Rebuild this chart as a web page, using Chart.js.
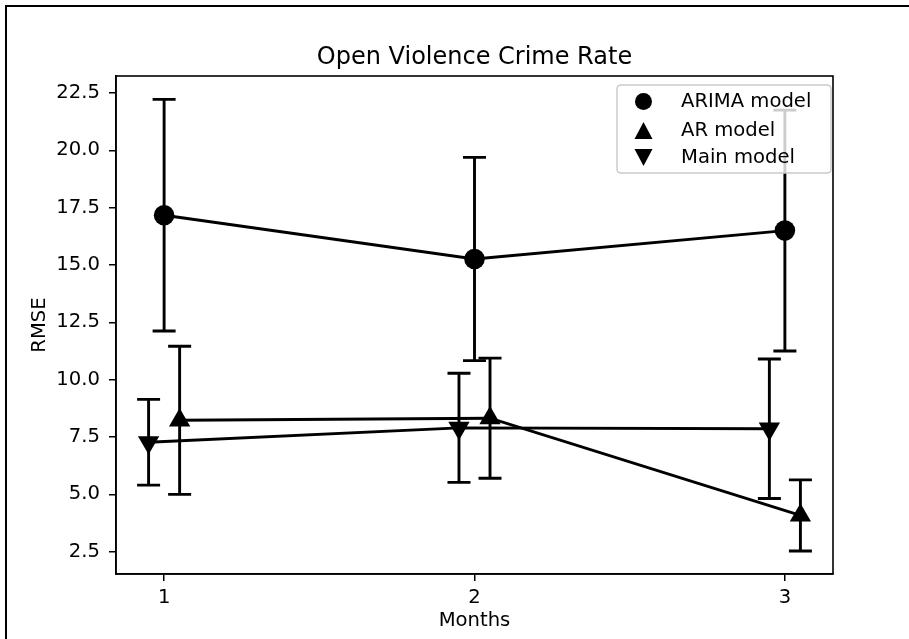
<!DOCTYPE html>
<html>
<head>
<meta charset="utf-8">
<script src="https://cdn.jsdelivr.net/npm/chart.js@4.4.1/dist/chart.umd.min.js"></script>
<style>
  html, body { margin: 0; padding: 0; background: #fff; }
  #wrap { position: relative; width: 909px; height: 639px; overflow: hidden; }
  #frame { position: absolute; left: 5px; top: 5px; width: 920px; height: 700px;
           border-left: 2.5px solid #000; border-top: 2.5px solid #000; pointer-events: none; }
</style>
</head>
<body>
<div id="wrap">
  <canvas id="c" width="909" height="639"></canvas>
  <div id="frame"></div>
</div>
<script>
// ---- data ----
const chartTitle = 'Open Violence Crime Rate';
const xTicks = [1, 2, 3];
const yTicks = [2.5, 5.0, 7.5, 10.0, 12.5, 15.0, 17.5, 20.0, 22.5];
const seriesNames = ['ARIMA model', 'AR model', 'Main model'];
const arimaX = [1, 2, 3];
const arimaRmse = [17.17, 15.26, 16.50];
const arimaErr = [5.05, 4.43, 5.25];
const arX = [1.05, 2.05, 3.05];
const arRmse = [8.23, 8.32, 4.08];
const arErr = [3.23, 2.62, 1.55];
const mainX = [0.95, 1.95, 2.95];
const mainRmse = [7.27, 7.90, 7.86];
const mainErr = [1.87, 2.38, 3.04];

const FONT = "'DejaVu Sans', sans-serif";
const LW = 2.9;
const pts = (xs, ys) => xs.map((x, i) => ({ x: x, y: ys[i] }));

const errorBarPlugin = {
  id: 'errorBars',
  beforeDatasetsDraw(chart) {
    const ctx = chart.ctx;
    const xs = chart.scales.x, ys = chart.scales.y;
    ctx.save();
    ctx.strokeStyle = '#000';
    ctx.lineWidth = LW;
    ctx.lineCap = 'butt';
    chart.data.datasets.forEach(ds => {
      ds.data.forEach((p, i) => {
        const e = ds.errors[i];
        const px = xs.getPixelForValue(p.x);
        const yHi = ys.getPixelForValue(p.y + e);
        const yLo = ys.getPixelForValue(p.y - e);
        ctx.beginPath();
        ctx.moveTo(px, yHi); ctx.lineTo(px, yLo);
        ctx.moveTo(px - 11.5, yHi); ctx.lineTo(px + 11.5, yHi);
        ctx.moveTo(px - 11.5, yLo); ctx.lineTo(px + 11.5, yLo);
        ctx.stroke();
      });
    });
    ctx.restore();
  },
  afterDraw(chart) {
    const ctx = chart.ctx;
    const a = chart.chartArea;
    ctx.save();
    // title centred over the axes
    ctx.fillStyle = '#000';
    ctx.font = '24px ' + FONT;
    ctx.textAlign = 'center';
    ctx.textBaseline = 'middle';
    ctx.fillText(chartTitle, (a.left + a.right) / 2, 58);
    // axes frame
    ctx.strokeStyle = '#000';
    ctx.lineWidth = 1.6;
    ctx.strokeRect(a.left, a.top, a.right - a.left, a.bottom - a.top);
    // legend (upper right, inside axes)
    const bx = a.right - 216, by = a.top + 9, bw = 214, bh = 88, r = 4;
    ctx.beginPath();
    ctx.moveTo(bx + r, by);
    ctx.lineTo(bx + bw - r, by); ctx.quadraticCurveTo(bx + bw, by, bx + bw, by + r);
    ctx.lineTo(bx + bw, by + bh - r); ctx.quadraticCurveTo(bx + bw, by + bh, bx + bw - r, by + bh);
    ctx.lineTo(bx + r, by + bh); ctx.quadraticCurveTo(bx, by + bh, bx, by + bh - r);
    ctx.lineTo(bx, by + r); ctx.quadraticCurveTo(bx, by, bx + r, by);
    ctx.closePath();
    ctx.fillStyle = 'rgba(255,255,255,0.8)';
    ctx.fill();
    ctx.strokeStyle = '#cccccc';
    ctx.lineWidth = 1.5;
    ctx.stroke();
    const rowsY = [by + 16.5, by + 45.5, by + 72.5];
    const mx = bx + 26.5;
    ctx.fillStyle = '#000';
    chart.data.datasets.forEach((ds, i) => {
      const y = rowsY[i];
      ctx.beginPath();
      if (ds.pointStyle === 'circle') {
        ctx.arc(mx, y, 8.5, 0, Math.PI * 2);
      } else if (ds.pointRotation === 180) {
        ctx.moveTo(mx - 9, y - 8.5); ctx.lineTo(mx + 9, y - 8.5); ctx.lineTo(mx, y + 8.5);
      } else {
        ctx.moveTo(mx - 9, y + 8.5); ctx.lineTo(mx + 9, y + 8.5); ctx.lineTo(mx, y - 8.5);
      }
      ctx.closePath();
      ctx.fill();
      ctx.font = '19.6px ' + FONT;
      ctx.textBaseline = 'middle';
      ctx.textAlign = 'left';
      ctx.fillText(ds.label, bx + 64, y);
    });
    ctx.restore();
  }
};

const mk = (label, xs, ys, errs, style, rot, radius) => ({
  label: label,
  data: pts(xs, ys),
  errors: errs,
  showLine: true,
  borderColor: '#000',
  borderWidth: LW,
  backgroundColor: '#000',
  pointBackgroundColor: '#000',
  pointBorderColor: '#000',
  pointBorderWidth: 0,
  pointStyle: style,
  pointRotation: rot,
  pointRadius: radius,
  pointHoverRadius: radius,
  tension: 0
});

new Chart(document.getElementById('c'), {
  type: 'scatter',
  data: {
    datasets: [
      mk(seriesNames[0], arimaX, arimaRmse, arimaErr, 'circle', 0, 10.3),
      mk(seriesNames[1], arX, arRmse, arErr, 'triangle', 0, 12.3),
      mk(seriesNames[2], mainX, mainRmse, mainErr, 'triangle', 180, 12.3)
    ]
  },
  options: {
    responsive: false,
    animation: false,
    events: [],
    layout: { padding: { left: 0, right: 76, top: 76, bottom: 0 } },
    plugins: {
      legend: { display: false },
      tooltip: { enabled: false },
      title: { display: false }
    },
    scales: {
      x: {
        type: 'linear',
        min: 0.845, max: 3.155,
        afterBuildTicks: s => { s.ticks = xTicks.map(v => ({ value: v })); },
        afterFit: s => { s.height = 65; },
        ticks: { color: '#000', font: { family: FONT, size: 19.6 }, padding: 5,
                 callback: v => String(v) },
        grid: { drawOnChartArea: false, drawTicks: true, tickLength: 7, color: '#000', lineWidth: 1.5 },
        border: { display: true, color: '#000', width: 1.6 },
        title: { display: true, text: 'Months', color: '#000',
                 font: { family: FONT, size: 19.6, lineHeight: 1.2 }, padding: { top: 0, bottom: 6 } }
      },
      y: {
        type: 'linear',
        min: 1.527, max: 23.24,
        afterBuildTicks: s => { s.ticks = yTicks.map(v => ({ value: v })); },
        afterFit: s => { s.width = 116; },
        ticks: { color: '#000', font: { family: FONT, size: 19.6 }, padding: 9,
                 callback: v => v.toFixed(1) },
        grid: { drawOnChartArea: false, drawTicks: true, tickLength: 7, color: '#000', lineWidth: 1.5 },
        border: { display: true, color: '#000', width: 1.6 },
        title: { display: true, text: 'RMSE', color: '#000',
                 font: { family: FONT, size: 19.6, lineHeight: 1.2 }, padding: { top: 27.8, bottom: 0 } }
      }
    }
  },
  plugins: [errorBarPlugin]
});
</script>
</body>
</html>
